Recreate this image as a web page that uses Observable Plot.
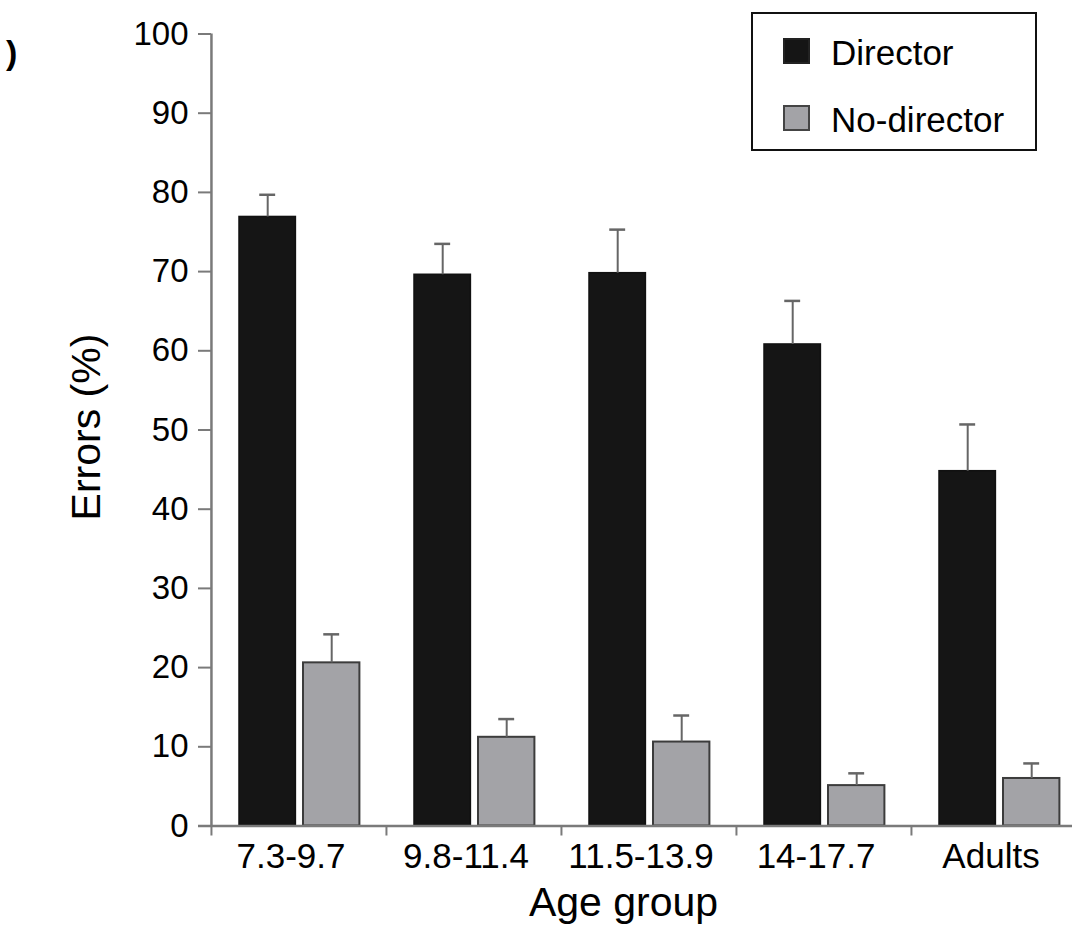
<!DOCTYPE html>
<html>
<head>
<meta charset="utf-8">
<script src="https://cdn.jsdelivr.net/npm/d3@7"></script>
<script src="https://cdn.jsdelivr.net/npm/@observablehq/plot@0.6"></script>
<style>
  html, body { margin: 0; padding: 0; background: #fff; overflow: hidden; }
  #wrap { position: relative; width: 1072px; height: 932px; font-family: "Liberation Sans", Arial, sans-serif; }
  #chart svg { display: block; }
  .legend { position: absolute; left: 751px; top: 12px; width: 282px; height: 135px; border: 2px solid #111; background: #fff; }
  .sw { position: absolute; left: 30px; width: 27px; height: 26px; box-sizing: border-box; }
  .lt { position: absolute; left: 78px; font-size: 35px; line-height: 35px; color: #000; }
  .panel { position: absolute; left: 6px; top: 33px; font-size: 34px; font-weight: bold; color: #000; }
</style>
</head>
<body>
<div id="wrap">
  <div id="chart"></div>
  <div class="panel">)</div>
  <div class="legend">
    <div class="sw" style="top:24px;background:#151515;border:2px solid #222;"></div>
    <div class="lt" style="top:21px;">Director</div>
    <div class="sw" style="top:91px;background:#a3a3a7;border:2px solid #444;"></div>
    <div class="lt" style="top:88px;">No-director</div>
  </div>
</div>
<script>
const groups = ["7.3-9.7", "9.8-11.4", "11.5-13.9", "14-17.7", "Adults"];
const director = [76.9, 69.6, 69.8, 60.8, 44.8];
const directorErr = [2.8, 3.9, 5.5, 5.5, 5.9];
const noDirector = [20.6, 11.2, 10.6, 5.1, 6.0];
const noDirectorErr = [3.6, 2.3, 3.35, 1.55, 1.9];
const yTicks = [0, 10, 20, 30, 40, 50, 60, 70, 80, 90, 100];

const rows = groups.map((g, i) => ({
  group: g,
  director: director[i], dirTop: director[i] + directorErr[i],
  noDirector: noDirector[i], ndTop: noDirector[i] + noDirectorErr[i]
}));

const bandW = (1086.5 - 211) / groups.length;
const axisGray = "#7a7a7a";
const errGray = "#666";

const chart = Plot.plot({
  width: 1072,
  height: 932,
  marginLeft: 211,
  marginRight: 0,
  marginTop: 33.5,
  marginBottom: 106.5,
  style: { fontFamily: "'Liberation Sans', Arial, sans-serif", background: "#fff", color: "#000" },
  x: { type: "band", domain: groups, range: [211, 1086.5], padding: 0 },
  y: { domain: [0, 100] },
  marks: [
    // bars
    Plot.barY(rows, { x: "group", y: "director", fill: "#151515", stroke: "#111", strokeWidth: 1.5,
      insetLeft: 28, insetRight: bandW - 84.5 }),
    Plot.barY(rows, { x: "group", y: "noDirector", fill: "#a3a3a7", stroke: "#3c3c3c", strokeWidth: 2,
      insetLeft: 92, insetRight: bandW - 148.5 }),
    // error bars
    Plot.ruleX(rows, { x: "group", y1: "director", y2: "dirTop", dx: 56.25 - bandW / 2, stroke: errGray, strokeWidth: 2 }),
    Plot.tickY(rows, { x: "group", y: "dirTop", stroke: errGray, strokeWidth: 2.5, insetLeft: 48.25, insetRight: bandW - 64.25 }),
    Plot.ruleX(rows, { x: "group", y1: "noDirector", y2: "ndTop", dx: 120.25 - bandW / 2, stroke: errGray, strokeWidth: 2 }),
    Plot.tickY(rows, { x: "group", y: "ndTop", stroke: errGray, strokeWidth: 2.5, insetLeft: 112.25, insetRight: bandW - 128.25 }),
    // axis lines
    Plot.ruleY([0], { stroke: axisGray, strokeWidth: 2.5, insetLeft: -13 }),
    Plot.ruleX([groups[0]], { x: d => d, y1: 0, y2: 100, dx: -bandW / 2, stroke: axisGray, strokeWidth: 2.5 }),
    // y axis
    Plot.axisY({ ticks: yTicks, tickSize: 13, text: null, color: axisGray, strokeWidth: 2, label: null }),
    Plot.axisY({ ticks: yTicks, tickSize: 0, tickPadding: 23, fontSize: 33, color: "#000", label: null }),
    // x axis
    Plot.axisX({ tickSize: 10, text: null, dx: -bandW / 2, color: axisGray, strokeWidth: 2, label: null }),
    Plot.axisX({ tickSize: 0, tickPadding: 17.5, dx: -8, fontSize: 35, color: "#000", label: null }),
    // axis titles
    Plot.text(["Age group"], { frameAnchor: "bottom", dx: 623 - (211 + 1072) / 2, dy: 77, fontSize: 41, textAnchor: "middle", lineAnchor: "middle", fill: "#000" }),
    Plot.text(["Errors (%)"], { frameAnchor: "left", rotate: -90, dx: 86 - 211, dy: -3, fontSize: 41, textAnchor: "middle", lineAnchor: "middle", fill: "#000" })
  ]
});
document.getElementById("chart").appendChild(chart);
</script>
</body>
</html>
